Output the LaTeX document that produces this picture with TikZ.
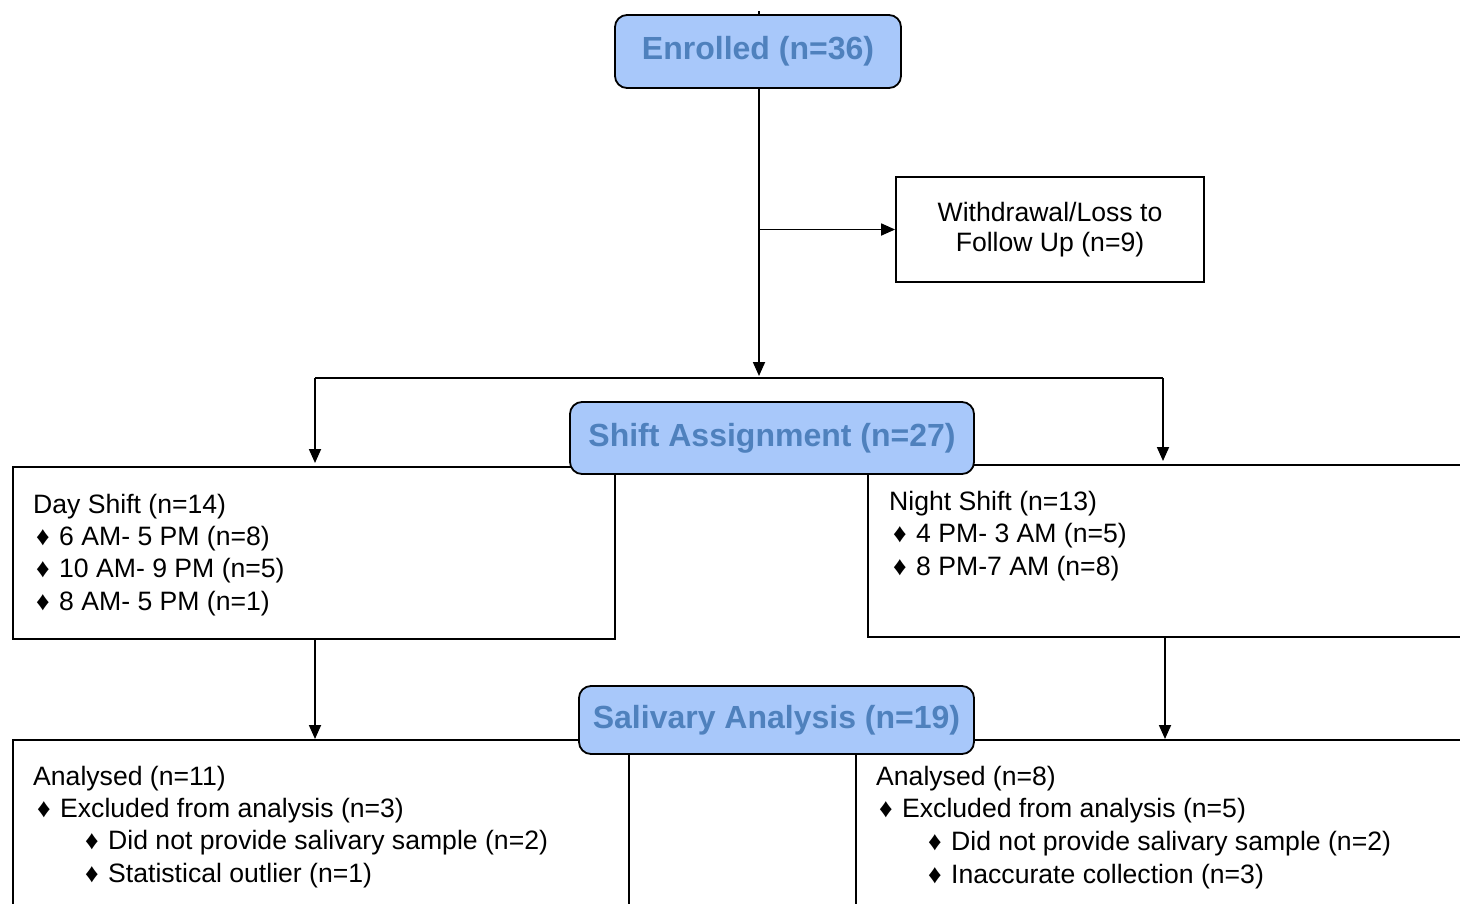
\documentclass[tikz,border=0pt]{standalone}
\usepackage{fontspec}
\setmainfont{Liberation Sans}
\usetikzlibrary{arrows.meta}
\definecolor{boxfill}{RGB}{168,200,250}
\definecolor{titlec}{RGB}{79,129,189}
\newcommand{\bul}{\makebox[23pt][l]{♦}}
\begin{document}
\begin{tikzpicture}[x=1pt,y=-1pt,
  lw/.style={line width=1.8pt},
  titlebox/.style={draw,lw,rounded corners=12pt,fill=boxfill,text=titlec,
    font=\fontsize{32}{38}\selectfont\bfseries,inner sep=0pt},
  plainbox/.style={draw,lw,fill=white,inner sep=0pt,anchor=north west},
  txt/.style={anchor=base west,inner sep=0pt,font=\fontsize{26.6}{32}\selectfont},
  arr/.style={lw,-{Triangle[length=14pt,width=12pt]}},
  conn/.style={lw}]
\useasboundingbox (0,0) rectangle (1460,903);
\clip (0,0) rectangle (1460,903);

% boxes
\node[titlebox,minimum width=286pt,minimum height=73pt] (enr) at (758,51.5) {Enrolled (n=36)};
\node[draw,lw,fill=white,minimum width=308pt,minimum height=105pt,align=center,
  font=\fontsize{26.6}{30}\selectfont,inner sep=0pt] (wd) at (1050,229.5) {Withdrawal/Loss to\\Follow Up (n=9)};

\node[plainbox,minimum width=602pt,minimum height=172pt] (day) at (12,466) {};
\node[plainbox,minimum width=700pt,minimum height=172pt] (night) at (867,464) {};
\node[titlebox,minimum width=404pt,minimum height=72pt] (shift) at (772,438) {Shift Assignment (n=27)};

\node[plainbox,minimum width=616pt,minimum height=250pt] (anl) at (12,739) {};
\node[plainbox,minimum width=700pt,minimum height=250pt] (anr) at (855,739) {};
\node[titlebox,minimum width=395pt,minimum height=68pt] (sal) at (776.5,720) {Salivary Analysis (n=19)};

% texts
\node[txt] (d1) at (33,513) {Day Shift (n=14)};
\node[txt] (d2) at (36,545) {\bul 6 AM- 5 PM (n=8)};
\node[txt] (d3) at (36,577) {\bul 10 AM- 9 PM (n=5)};
\node[txt] (d4) at (36,610) {\bul 8 AM- 5 PM (n=1)};

\node[txt] (n1) at (889,510) {Night Shift (n=13)};
\node[txt] (n2) at (893,542) {\bul 4 PM- 3 AM (n=5)};
\node[txt] (n3) at (893,575) {\bul 8 PM-7 AM (n=8)};

\node[txt] (l1) at (33,785) {Analysed (n=11)};
\node[txt] (l2) at (37,817) {\bul Excluded from analysis (n=3)};
\node[txt] (l3) at (85,849) {\bul Did not provide salivary sample (n=2)};
\node[txt] (l4) at (85,882) {\bul Statistical outlier (n=1)};

\node[txt] (r1) at (876,785) {Analysed (n=8)};
\node[txt] (r2) at (879,817) {\bul Excluded from analysis (n=5)};
\node[txt] (r3) at (928,850) {\bul Did not provide salivary sample (n=2)};
\node[txt] (r4) at (928,883) {\bul Inaccurate collection (n=3)};

% connectors
\coordinate (split) at (759,378);
\coordinate (L) at (315,378);
\coordinate (R) at (1163,378);
\coordinate (top) at (759,11);
\coordinate (br) at (split |- wd.west);
\coordinate (LL) at (1165,0);
\draw[conn] (top) -- (enr.north -| top);
\draw[arr,shorten >=2pt] (enr.south -| split) -- (split);
\draw[arr] (br) -- (wd.west);
\draw[conn] (L) -- (R);
\draw[arr,shorten >=3pt] (L) -- (L |- day.north);
\draw[arr,shorten >=3pt] (R) -- (R |- night.north);
\draw[arr] (day.south -| L) -- (L |- anl.north);
\draw[arr] (night.south -| LL) -- (LL |- anr.north);
\end{tikzpicture}
\end{document}
